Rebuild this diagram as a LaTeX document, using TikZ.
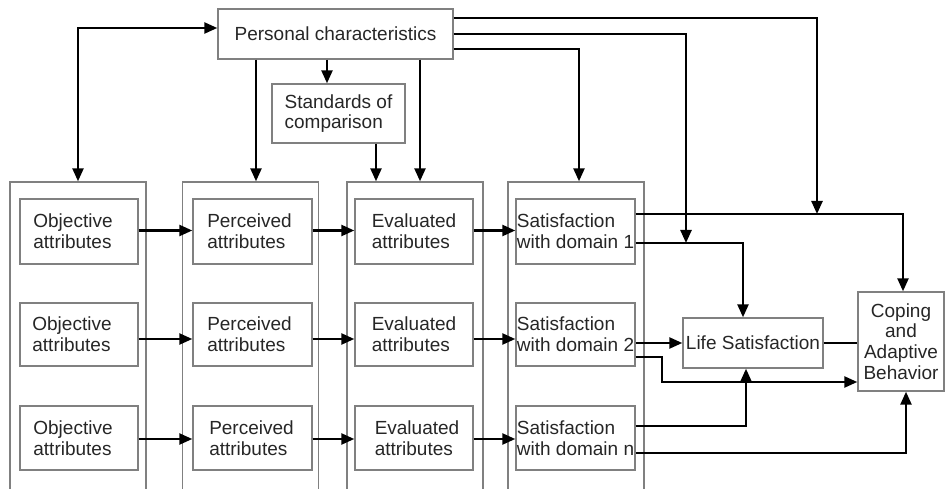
\documentclass[tikz,border=0pt]{standalone}
\usepackage{fontspec}
\setmainfont{Liberation Sans}
\usetikzlibrary{arrows.meta}
\begin{document}
\begin{tikzpicture}[x=1pt,y=-1pt,
  every node/.style={font=\fontsize{19}{20.7}\selectfont, text=black!85},
  box/.style={draw=black!50, line width=1.4pt, inner sep=0pt, align=left},
  col/.style={draw=black!50, line width=1.4pt, minimum width=136pt, minimum height=338pt, inner sep=0pt},
  inner/.style={box, minimum width=118pt},
  tip/.tip={Triangle[length=13pt,width=11pt]},
  conn/.style={line width=2.4pt, -tip},
  both/.style={line width=2.4pt, tip-tip},
  plain/.style={line width=2.4pt},
]
\useasboundingbox (0,0) rectangle (945,489);
\clip (0,0) rectangle (945,489);

% outer columns
\node[col] (col1) at (78,351) {};
\node[col] (col2) at (250.5,351) {};
\node[col] (col3) at (415,351) {};
\node[col] (col4) at (576,351) {};

% top boxes
\node[box, minimum width=235pt, minimum height=50pt] (pc) at (335.5,34) {Personal characteristics};
\node[box, minimum width=133pt, minimum height=59pt] (std) at (338.5,113.5) {Standards of\\comparison};

% row 1
\node[inner, minimum height=65pt] (o1) at (79,231.5) {Objective\hspace*{12pt}\\attributes};
\node[inner, minimum width=119pt, minimum height=65pt] (p1) at (252.5,231.5) {Perceived\hspace*{6pt}\\attributes};
\node[inner, minimum height=65pt] (e1) at (414,231.5) {Evaluated\\attributes};
\node[inner, minimum width=119pt, minimum height=65pt] (s1) at (575.5,231.5) {Satisfaction\\with domain 1};
% row 2
\node[inner, minimum height=63pt] (o2) at (79,334.5) {Objective\hspace*{14pt}\\attributes};
\node[inner, minimum width=119pt, minimum height=63pt] (p2) at (252.5,334.5) {Perceived\hspace*{6pt}\\attributes};
\node[inner, minimum height=63pt] (e2) at (414,334.5) {Evaluated\\attributes};
\node[inner, minimum width=119pt, minimum height=63pt] (s2) at (575.5,334.5) {Satisfaction\\with domain 2};
% row 3
\node[inner, minimum height=64pt] (o3) at (79,438) {Objective\hspace*{12pt}\\attributes};
\node[inner, minimum width=119pt, minimum height=64pt] (p3) at (252.5,438) {Perceived\hspace*{2pt}\\attributes};
\node[inner, minimum height=64pt] (e3) at (414,438) {\hspace*{6pt}Evaluated\\\hspace*{6pt}attributes};
\node[inner, minimum width=119pt, minimum height=64pt] (s3) at (575.5,438) {Satisfaction\\with domain n};

% right boxes
\node[box, minimum width=140pt, minimum height=50pt] (ls) at (753,343) {Life Satisfaction};
\node[box, minimum width=86pt, minimum height=99pt, align=center] (cab) at (901,341.5) {Coping\\and\\Adaptive\\Behavior};

% free ends (joins on other connectors)
\coordinate (j1) at (686,243);
\coordinate (j2) at (817,214);

% connectors from personal characteristics
\draw[both] (col1.north) |- ([yshift=6pt]pc.west);
\draw[conn] ([xshift=-79.5pt]pc.south) -- ([xshift=5.5pt]col2.north);
\draw[conn] ([xshift=-8.5pt]pc.south) -- ([xshift=-8.5pt]pc.south |- std.north);
\draw[conn] ([xshift=37.5pt]std.south) -- ([xshift=37.5pt]std.south |- col3.north);
\draw[conn] ([xshift=84.5pt]pc.south) -- ([xshift=84.5pt]pc.south |- col3.north);
\draw[conn] ([yshift=-15pt]pc.east) -| ([xshift=3pt]col4.north);
\draw[conn] (pc.east) -| (j1);
\draw[conn] ([yshift=16pt]pc.east) -| (j2);

% row arrows
\draw[conn] ([yshift=1pt]o1.east) -- ([yshift=1pt]p1.west);
\draw[conn] ([yshift=1pt]p1.east) -- ([yshift=1pt]e1.west);
\draw[conn] ([yshift=1pt]e1.east) -- ([yshift=1pt]s1.west);
\draw[conn] ([yshift=-4.5pt]o2.east) -- ([yshift=-4.5pt]p2.west);
\draw[conn] ([yshift=-4.5pt]p2.east) -- ([yshift=-4.5pt]e2.west);
\draw[conn] ([yshift=-4.5pt]e2.east) -- ([yshift=-4.5pt]s2.west);
\draw[conn] ([yshift=-1pt]o3.east) -- ([yshift=-1pt]p3.west);
\draw[conn] ([yshift=-1pt]p3.east) -- ([yshift=-1pt]e3.west);
\draw[conn] ([yshift=-1pt]e3.east) -- ([yshift=-1pt]s3.west);

% domain satisfaction to outcomes
\draw[conn] ([yshift=17.5pt]s1.east) -| ([xshift=2pt]cab.north);
\draw[conn] ([yshift=-11.5pt]s1.east) -| ([xshift=-10pt]ls.north);
\draw[conn] ([yshift=-8.5pt]s2.east) -- (ls.west);
\draw[plain] (ls.east) -- (ls.east -| cab.west);
\draw[conn] ([yshift=-22.5pt]s2.east) -- ++(26pt,0) |- ([yshift=-40.5pt]cab.west);
\draw[conn] ([yshift=12pt]s3.east) -| ([xshift=-7pt]ls.south);
\draw[conn] ([yshift=-15pt]s3.east) -| ([xshift=5pt]cab.south);
\end{tikzpicture}
\end{document}
